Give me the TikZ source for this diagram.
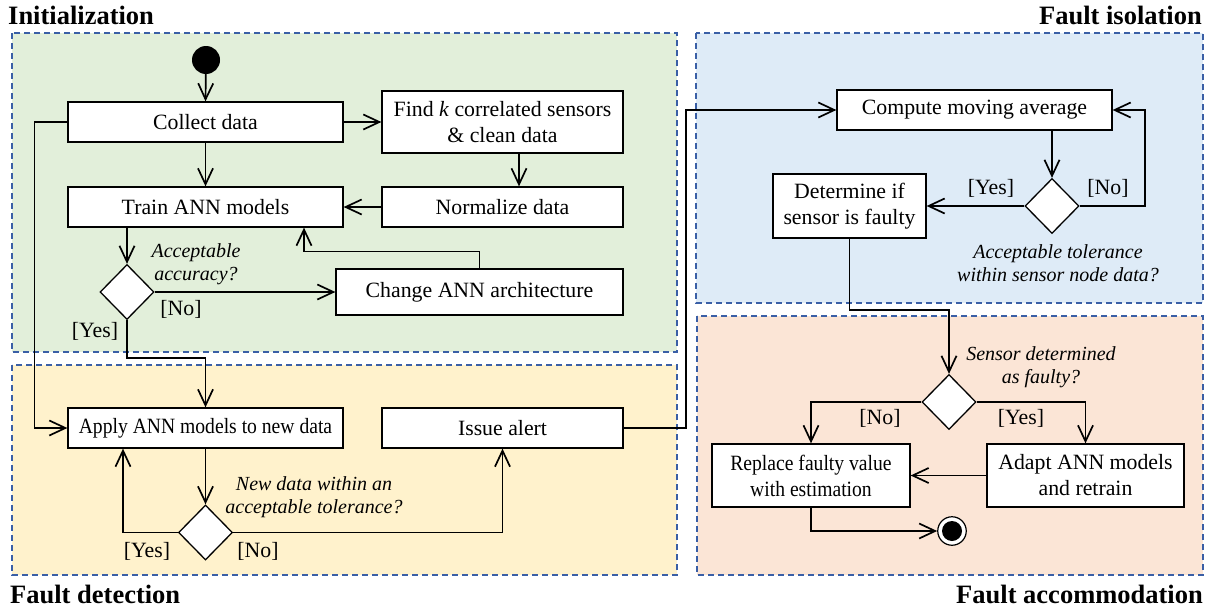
\documentclass[tikz,border=0pt]{standalone}
\usepackage{fontspec}
\setmainfont{Liberation Serif}
\newfontfamily\narrowserif[FakeStretch=0.9]{Liberation Serif}
\usetikzlibrary{arrows.meta,shapes.geometric}

\definecolor{initfill}{HTML}{E2EFDA}
\definecolor{detectfill}{HTML}{FFF2CC}
\definecolor{isofill}{HTML}{DEEBF7}
\definecolor{accfill}{HTML}{FBE5D6}
\definecolor{frameblue}{HTML}{3A5FA6}

\newcommand{\boxfont}{\fontsize{21.8}{26}\selectfont}
\newcommand{\condfont}{\fontsize{20}{23.5}\selectfont\itshape}
\newcommand{\laneheadfont}{\fontsize{26.5}{30}\selectfont\bfseries}

\tikzset{
  box/.style={draw, line width=1.3pt, fill=white, inner sep=0pt, align=center, font=\boxfont},
  dec/.style={diamond, draw, line width=1.3pt, fill=white, minimum width=54pt, minimum height=55pt, inner sep=0pt},
  conn/.style={line width=1.7pt, -{Straight Barb[length=16pt,width=15pt]}},
  guard/.style={font=\boxfont, inner sep=0pt},
  cond/.style={font=\condfont, align=center, inner sep=0pt},
  lane/.style={draw=frameblue, line width=1.4pt, dash pattern=on 6pt off 4pt},
  lanehead/.style={font=\laneheadfont, inner sep=0pt}
}

\begin{document}
\begin{tikzpicture}[x=1pt, y=-1pt]
\useasboundingbox (0,0) rectangle (1216,613);

% swimlane backgrounds
\draw[lane, fill=initfill]   (12,33)  rectangle (677,352);
\draw[lane, fill=detectfill] (12,365) rectangle (677,575);
\draw[lane, fill=isofill]    (696,33) rectangle (1203,303);
\draw[lane, fill=accfill]    (697,316) rectangle (1203,575);

% lane headings
\node[lanehead, anchor=base west] (hInit) at (8,24) {Initialization};
\node[lanehead, anchor=base east] (hIso) at (1202,24) {Fault isolation};
\node[lanehead, anchor=base west] (hDet) at (10,603) {Fault detection};
\node[lanehead, anchor=base east] (hAcc) at (1203,603) {Fault accommodation};

% initial node
\node[circle, fill=black, minimum size=28pt, inner sep=0pt] (init) at (206,60) {};

% activities
\node[box, minimum width=275pt, minimum height=40pt] (collect) at (205.5,122) {Collect data};
\node[box, minimum width=241pt, minimum height=62pt] (find) at (502.5,122) {Find \textit{k} correlated sensors\\\& clean data};
\node[box, minimum width=275pt, minimum height=40pt] (train) at (205.5,207) {Train ANN models};
\node[box, minimum width=241pt, minimum height=40pt] (normalize) at (502.5,207) {Normalize data};
\node[box, minimum width=287pt, minimum height=46pt] (change) at (479.5,292) {Change ANN architecture};
\node[box, minimum width=275pt, minimum height=40pt] (apply) at (205.5,428) {\narrowserif Apply ANN models to new data};
\node[box, minimum width=241pt, minimum height=40pt] (alert) at (502.5,428) {Issue alert};
\node[box, minimum width=275pt, minimum height=40pt] (compute) at (974.5,110) {Compute moving average};
\node[box, minimum width=153pt, minimum height=64pt] (determine) at (849.5,206) {Determine if\\sensor is faulty};
\node[box, minimum width=198pt, minimum height=63pt] (replace) at (811,475.5) {\narrowserif Replace faulty value\\\narrowserif with estimation};
\node[box, minimum width=197pt, minimum height=63pt] (adapt) at (1085.5,475.5) {Adapt ANN models\\and retrain};

% decisions
\node[dec] (d1) at (127,292) {};
\node[dec] (d2) at (205.5,532.5) {};
\node[dec] (d3) at (1052,206) {};
\node[dec] (d4) at (949,402) {};

% final node
\node[circle, draw, line width=1.2pt, fill=white, minimum size=28.5pt, inner sep=0pt] (finish) at (952,531) {};
\node[circle, fill=black, minimum size=20pt, inner sep=0pt] (finishdot) at (finish.center) {};

% decision questions and guards
\node[cond] (q1) at (196,264) {Acceptable\\accuracy?};
\node[cond] (q2) at (314,497) {New data within an\\acceptable tolerance?};
\node[cond] (q3) at (1058,263) {Acceptable tolerance\\within sensor node data?};
\node[cond] (q4) at (1041,367) {Sensor determined\\as faulty?};

\node[guard] (g1no) at (181,309) {[No]};
\node[guard] (g1yes) at (95,331) {[Yes]};
\node[guard] (g2yes) at (147,551) {[Yes]};
\node[guard] (g2no) at (258,551) {[No]};
\node[guard] (g3yes) at (991,188) {[Yes]};
\node[guard] (g3no) at (1108,188) {[No]};
\node[guard] (g4no) at (880,418) {[No]};
\node[guard] (g4yes) at (1021,418) {[Yes]};

% initialization flow
\draw[conn] (init) -- (collect.north);
\draw[conn] (collect.east) -- (find.west);
\draw[conn] (collect.south) -- (train.north);
\draw[conn] ([xshift=16.5pt]find.south) -- ([xshift=16.5pt]normalize.north);
\draw[conn] (normalize.west) -- (train.east);
\draw[conn] (train.south -| d1.north) -- (d1.north);
\draw[conn] (d1.east) -- (change.west);
\draw[conn] (change.north) -- ++(0,-17) -| ([xshift=98.5pt]train.south);
\draw[conn] (d1.south) -- ++(0,38) -| (apply.north);
\draw[conn] (collect.west) -- ++(-33,0) |- (apply.west);

% detection flow
\draw[conn] (apply.south) -- (d2.north);
\draw[conn] (d2.west) -| ([xshift=-82.5pt]apply.south);
\draw[conn] (d2.east) -| (alert.south);
\draw[conn] (alert.east) -- ++(62,0) |- (compute.west);

% isolation flow
\draw[conn] (compute.south -| d3.north) -- (d3.north);
\draw[conn] (d3.east) -- ++(65,0) |- (compute.east);
\draw[conn] (d3.west) -- (determine.east);
\draw[conn] (determine.south) -- ++(0,71) -| (d4.north);

% accommodation flow
\draw[conn] (d4.west) -| (replace.north);
\draw[conn] (d4.east) -| (adapt.north);
\draw[conn] (adapt.west) -- (replace.east);
\draw[conn] (replace.south) |- (finish.west);
\end{tikzpicture}
\end{document}
